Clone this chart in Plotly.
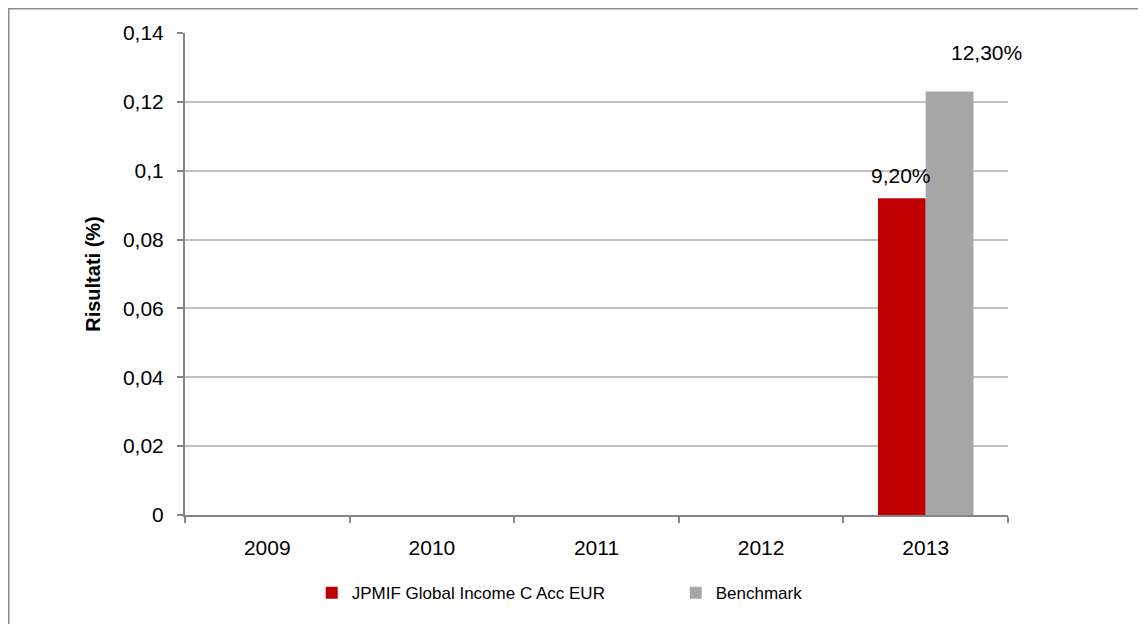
import plotly.graph_objects as go

years = ["2009", "2010", "2011", "2012", "2013"]
fund_name = "JPMIF Global Income C Acc EUR"
bench_name = "Benchmark"
fund_values = [0, 0, 0, 0, 0.092]
bench_values = [0, 0, 0, 0, 0.123]
fund_label = "9,20%"
bench_label = "12,30%"
y_title = "Risultati (%)"

RED = "#C00000"
GRAY = "#A6A6A6"
FONT = "Liberation Sans, Arial, sans-serif"

# page is offset by the 8px body margin; plot area target 185..1008 x 33..515
W, H = 1138, 616
ML, MR, MT, MB = 177, 138, 25, 109
PW, PH = W - ML - MR, H - MT - MB

fig = go.Figure()
fig.add_trace(go.Bar(x=years, y=fund_values, name=fund_name, marker=dict(color=RED, line=dict(width=0))))
fig.add_trace(go.Bar(x=years, y=bench_values, name=bench_name, marker=dict(color=GRAY, line=dict(width=0))))

last = len(years) - 1  # category index of the labelled year
fig.add_annotation(x=last, y=fund_values[last], text=fund_label, showarrow=False,
                   xshift=-25, yshift=23, yanchor="middle", font=dict(size=21, color="#000000", family=FONT))
fig.add_annotation(x=last, y=bench_values[last], text=bench_label, showarrow=False,
                   xshift=61, yshift=39, yanchor="middle", font=dict(size=21, color="#000000", family=FONT))

# outer chart border (left/top edges visible)
fig.add_shape(type="rect", xref="paper", yref="paper",
              x0=(0.5 - ML) / PW, x1=(W + 40 - ML) / PW,
              y0=-(MB + 40) / PH, y1=1 + (MT - 0.5) / PH,
              line=dict(color="#8C8C8C", width=2), fillcolor="rgba(0,0,0,0)", layer="below")

fig.update_layout(
    width=W, height=H,
    margin=dict(l=ML, r=MR, t=MT, b=MB),
    paper_bgcolor="white", plot_bgcolor="white",
    separators=",.",
    barmode="group", bargap=0.42, bargroupgap=0,
    font=dict(family=FONT, size=21, color="#000000"),
    showlegend=True,
    legend=dict(orientation="h", x=0.154, xanchor="left", y=-0.162, yanchor="middle",
                font=dict(size=17, family=FONT, color="#000000"),
                itemwidth=30, entrywidth=319, entrywidthmode="pixels", traceorder="normal"),
    xaxis=dict(type="category", range=[-0.5, len(years) - 0.5], showgrid=False,
               showline=True, linecolor="#868686", linewidth=2,
               ticks="outside", tickson="boundaries", ticklen=6, tickcolor="#868686", tickwidth=1.5,
               ticklabelstandoff=13,
               tickfont=dict(size=21, family=FONT, color="#000000")),
    yaxis=dict(range=[0, 0.14], dtick=0.02, showgrid=True, gridcolor="#C0C0C0", gridwidth=1.5,
               showline=True, linecolor="#868686", linewidth=2, zeroline=False,
               ticks="outside", ticklen=6, tickcolor="#868686", tickwidth=1.5,
               ticklabelstandoff=9,
               tickfont=dict(size=21, family=FONT, color="#000000"),
               title=dict(text="<b>" + y_title + "</b>", font=dict(size=20, family=FONT, color="#000000"), standoff=17)),
)

fig.write_html("out.html")
